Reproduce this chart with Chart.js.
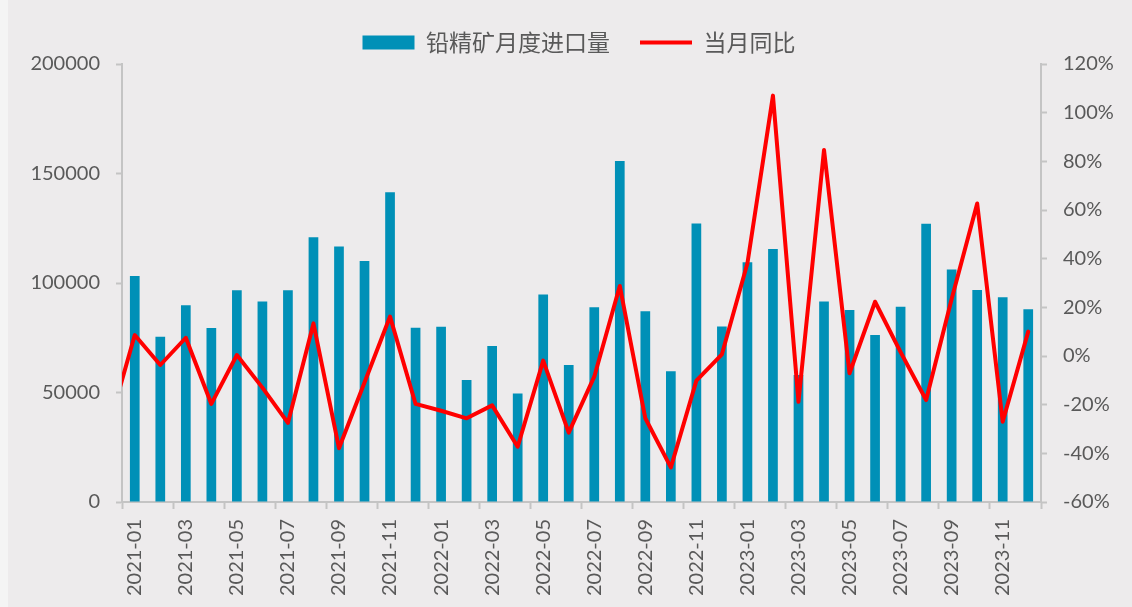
<!DOCTYPE html>
<html>
<head>
<meta charset="utf-8">
<script src="https://cdn.jsdelivr.net/npm/chart.js@4.4.1/dist/chart.umd.min.js"></script>
<style>
  html, body { margin: 0; padding: 0; }
  body { width: 1132px; height: 607px; background: linear-gradient(to right, #F4F4F4 0, #F4F4F4 8px, #EDEBEC 8px, #EDEBEC 100%); overflow: hidden; }
  #wrap { position: relative; width: 1132px; height: 607px; }
</style>
</head>
<body>
<div id="wrap"><canvas id="c"></canvas></div>
<script>
// Category labels (months)
const months = [
  '2021-01','2021-02','2021-03','2021-04','2021-05','2021-06','2021-07','2021-08','2021-09','2021-10','2021-11','2021-12',
  '2022-01','2022-02','2022-03','2022-04','2022-05','2022-06','2022-07','2022-08','2022-09','2022-10','2022-11','2022-12',
  '2023-01','2023-02','2023-03','2023-04','2023-05','2023-06','2023-07','2023-08','2023-09','2023-10','2023-11','2023-12'
];
// 铅精矿月度进口量 (tonnes)
const imports = [
  103200, 75500, 89800, 79500, 96700, 91500, 96700, 120900, 116700, 110000, 141400, 79600,
  80000, 55700, 71200, 49600, 94700, 62600, 88900, 155700, 87100, 59700, 127200, 80100,
  109500, 115500, 58000, 91600, 87700, 76300, 89200, 127100, 106200, 96800, 93500, 88000
];
// 当月同比 (%), value for the month before 2021-01 (2020-12), whose segment enters from the left edge
const yoyPrev = -28.4;
const yoy = [
  8.6, -3.7, 7.5, -19.7, 0.4, -13, -27.5, 13.4, -37.9, -10.9, 16.2, -19.7,
  -22.5, -25.6, -20.3, -37.3, -1.9, -31.5, -8.5, 28.8, -25.6, -45.8, -10.1, 0.7,
  38.1, 107.0, -18.8, 84.7, -7.1, 22.3, 1.6, -18.1, 23.4, 62.7, -27.0, 10.0
];
// Axis ticks
const leftTicks = [0, 50000, 100000, 150000, 200000];
const rightTicks = [-60, -40, -20, 0, 20, 40, 60, 80, 100, 120];

const seriesNames = ['铅精矿月度进口量', '当月同比'];

const lineData = [{x: -1, y: yoyPrev}].concat(yoy.map((v, i) => ({x: i, y: v})));

const axisGray = '#C4C4C4';
const textGray = '#595959';
const tickFont = { family: 'Lato, "Liberation Sans", sans-serif', size: 20 };

new Chart(document.getElementById('c'), {
  data: {
    labels: months,
    datasets: [
      {
        type: 'bar',
        label: seriesNames[0],
        data: imports,
        backgroundColor: '#0090B7',
        borderWidth: 0,
        grouped: false,
        barPercentage: 0.38,
        categoryPercentage: 1,
        xAxisID: 'x',
        yAxisID: 'y',
        order: 1
      },
      {
        type: 'line',
        label: seriesNames[1],
        data: lineData,
        borderColor: '#FF0000',
        backgroundColor: '#FF0000',
        borderWidth: 4,
        borderCapStyle: 'round',
        borderJoinStyle: 'round',
        pointRadius: 0,
        tension: 0,
        xAxisID: 'xl',
        yAxisID: 'y1',
        order: 0
      }
    ]
  },
  options: {
    responsive: true,
    maintainAspectRatio: false,
    animation: false,
    layout: { padding: { top: 1, left: 26, right: 0, bottom: 0 } },
    plugins: {
      tooltip: { enabled: false },
      legend: {
        position: 'top',
        align: 'center',
        labels: {
          usePointStyle: true,
          pointStyleWidth: 52,
          boxHeight: 14,
          padding: 30,
          color: textGray,
          font: { family: '"Noto Sans CJK SC", Lato, sans-serif', size: 23 },
          sort: (a, b) => a.datasetIndex - b.datasetIndex,
          generateLabels: (chart) => {
            const items = Chart.defaults.plugins.legend.labels.generateLabels(chart);
            items.forEach(it => {
              it.pointStyle = it.datasetIndex === 0 ? 'rect' : 'line';
              if (it.datasetIndex === 0) { it.lineWidth = 0; it.strokeStyle = 'transparent'; }
            });
            return items;
          }
        }
      }
    },
    scales: {
      x: {
        type: 'category',
        position: 'bottom',
        offset: true,
        afterFit: (s) => { s.height = 105; },
        border: { display: true, color: axisGray, width: 2 },
        grid: {
          offset: true,
          drawOnChartArea: false,
          drawTicks: true,
          tickLength: 7,
          tickWidth: 2,
          color: (ctx) => (ctx.index === undefined || ctx.index % 2 === 0) ? axisGray : 'rgba(0,0,0,0)'
        },
        ticks: {
          autoSkip: false,
          maxRotation: 90,
          minRotation: 90,
          padding: 10,
          color: textGray,
          font: tickFont,
          callback: function(val, idx) { return idx % 2 === 0 ? this.getLabelForValue(val) : ''; }
        }
      },
      xl: {
        type: 'linear',
        display: false,
        min: -0.5,
        max: months.length - 0.5
      },
      y: {
        type: 'linear',
        position: 'left',
        min: leftTicks[0],
        max: leftTicks[leftTicks.length - 1],
        afterFit: (s) => { s.width = 96; },
        afterBuildTicks: (s) => { s.ticks = leftTicks.map(v => ({ value: v })); },
        border: { display: true, color: axisGray, width: 2 },
        grid: { drawOnChartArea: false, drawTicks: true, tickLength: 6, tickWidth: 2, color: axisGray },
        ticks: { padding: 16, color: textGray, font: tickFont, callback: (v) => String(v) }
      },
      y1: {
        type: 'linear',
        position: 'right',
        min: rightTicks[0],
        max: rightTicks[rightTicks.length - 1],
        afterFit: (s) => { s.width = 91; },
        afterBuildTicks: (s) => { s.ticks = rightTicks.map(v => ({ value: v })); },
        border: { display: true, color: axisGray, width: 2 },
        grid: { drawOnChartArea: false, drawTicks: true, tickLength: 6, tickWidth: 2, color: axisGray },
        ticks: { padding: 16, color: textGray, font: tickFont, callback: (v) => v + '%' }
      }
    }
  }
});
</script>
</body>
</html>
